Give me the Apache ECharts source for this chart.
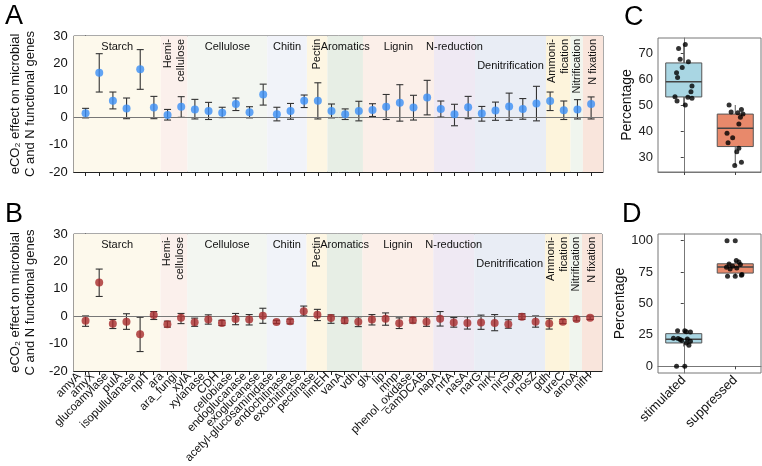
<!DOCTYPE html>
<html><head><meta charset="utf-8">
<script src="https://cdn.jsdelivr.net/npm/echarts@6/dist/echarts.min.js"></script>
<style>html,body{margin:0;padding:0;background:#fff}#c{width:762px;height:466px}</style>
</head><body><div id="c"></div>
<script>
const genes = ['amyA','amyX','glucoamylase','pulA','isopullulanase','nplT','ara','ara_fungi','xylA','xylanase','CDH','cellobiase','endoglucanase','exoglucanase','acetyl-glucosaminidase','endochitinase','exochitinase','pectinase','limEH','vanA','vdh','glx','lip','mnp','phenol_oxidase','camDCAB','napA','nrfA','nasA','narG','nirK','nirS','norB','nosZ','gdh','ureC','amoA','nifH'];
const aMean = [1.6,16.5,6.2,3.3,17.8,3.7,1.0,4.0,3.0,2.4,1.8,5.0,2.0,8.5,1.2,2.4,6.2,6.2,2.4,1.2,2.4,2.8,4.0,5.5,3.7,7.4,3.2,1.2,3.8,1.5,2.6,4.1,3.2,5.2,6.1,2.7,3.0,5.0];
const aLow  = [-0.1,9.4,3.2,-0.4,10.4,-0.4,-0.9,0.1,-0.5,-0.7,0.0,2.6,-0.1,4.6,-1.2,-0.6,3.7,-0.5,-0.1,-0.7,-1.2,0.4,-0.7,-1.3,-0.9,1.0,0.2,-3.0,-0.4,-1.3,-1.0,-1.0,-0.6,-1.2,2.6,-0.7,-0.5,-0.5];
const aHigh = [3.4,23.5,9.4,7.2,25.0,7.8,3.0,7.7,6.7,5.6,3.8,7.2,4.0,12.3,3.8,5.2,8.3,12.8,5.0,3.2,6.0,5.1,8.5,12.1,8.2,13.7,6.1,4.9,7.8,4.1,5.7,9.0,7.0,11.5,9.4,6.1,6.6,7.6];
const bMean = [-1.7,12.3,-2.8,-2.0,-6.6,0.4,-2.9,-0.6,-2.2,-1.2,-2.5,-1.0,-1.2,0.2,-2.1,-1.8,1.8,0.5,-0.7,-1.6,-2.0,-1.2,-0.9,-2.6,-1.5,-2.0,-0.9,-2.3,-2.5,-2.3,-2.5,-2.9,-0.2,-2.0,-2.7,-2.0,-1.0,-0.6];
const bLow  = [-3.7,7.2,-4.5,-4.8,-12.9,-1.2,-4.0,-2.7,-3.7,-2.9,-3.4,-3.1,-3.2,-2.6,-2.7,-2.8,0.1,-1.6,-2.6,-2.6,-3.8,-3.2,-3.3,-4.5,-2.5,-3.7,-3.6,-4.0,-4.7,-4.8,-5.3,-4.4,-1.2,-4.0,-4.7,-2.7,-1.7,-1.2];
const bHigh = [0.1,17.2,-1.2,0.9,-0.4,1.7,-1.8,1.0,-0.7,0.5,-1.5,1.0,0.6,2.9,-1.5,-1.1,3.7,2.5,0.5,-0.6,-0.2,0.6,1.2,-0.6,-0.4,-0.2,1.7,-0.5,-0.2,0.4,0.6,-1.3,0.9,0.1,-0.9,-1.2,-0.2,0.0];
const groupNames = ['Starch','Hemi-\ncellulose','Cellulose','Chitin','Pectin','Aromatics','Lignin','N-reduction','Denitrification','Ammoni-\nfication','Nitrification','N fixation'];
const groupStart = [-0.87,5.5,7.46,13.3,16.2,17.7,20.3,25.5,28.5,33.7,35.5,36.4];
const groupEnd   = [5.5,7.46,13.3,16.2,17.7,20.3,25.5,28.5,33.7,35.5,36.4,37.87];
const groupColors = ['#fdf9ec','#fbf0ec','#f3f6f1','#f1f3f9','#fdf6e3','#e7eee5','#fbefe9','#efe9f3','#e9edf5','#fdf4dc','#f0f5ee','#f9e5dc'];
const groupVertical = [false,true,false,false,true,false,false,false,false,true,true,true];
const groupLower = [false,false,false,false,false,false,false,false,true,false,false,false];

const boxCats = ['stimulated','suppressed'];
// [lower whisker, Q1, median, Q3, upper whisker]
const cBox = [[50.0,53.1,59.0,66.2,73.3],[26.7,34.0,41.0,46.5,50.0]];
const cStim = [73.3,71.8,67.6,66.7,64.4,62.4,60.6,57.3,55.1,53.2,53.0,52.6,51.5,50.0];
const cStimJit = [0.03,-0.10,-0.07,0.09,-0.03,-0.14,-0.12,0.16,0.14,-0.17,0.08,0.16,-0.13,0.03];
const cSupp = [50.0,48.3,47.3,46.5,45.3,42.7,39.1,37.4,35.5,33.3,32.0,28.0,26.7,47.0];
const cSuppJit = [-0.12,0.12,-0.08,0.15,0.10,0.07,-0.16,-0.05,-0.14,0.07,0.03,0.12,-0.01,0.05];
const dBox = [[15.8,18.6,21.6,26.0,28.4],[71.7,74.2,79.0,81.6,84.2]];
const dStim = [0,0,28.4,28.4,27.6,27.4,22.3,22.1,21.8,21.3,20.5,19.9,18.6,16.7];
const dStimJit = [-0.14,0.02,-0.12,0.02,0.05,0.13,-0.2,-0.11,0.07,-0.07,-0.04,0.13,0.05,0.10];
const dSupp = [100,100,84.2,83.1,81.5,81.0,79.6,78.8,78.3,77.5,73.0,72.5,71.7,71.7];
const dSuppJit = [-0.16,0.0,0.02,0.07,-0.12,0.10,-0.05,-0.17,0.03,-0.10,0.13,0.12,0.0,-0.15];
const yTicksC = [30,40,50,60,70];
const yTicksD = [0,25,50,75,100];
const boxFill = ['#a9d6e3','#e8896b'];

const FONT = 'Liberation Sans, Arial, Helvetica, sans-serif';
const chart = echarts.init(document.getElementById('c'), null, {renderer:'canvas'});
const idx = genes.map((g,i)=>i);

function bandData(){
  return groupNames.map((n,i)=>{
    const v = groupVertical[i];
    const lab = v ? {show:true, position:'insideTop', distance:3, rotate:90, align:'right', verticalAlign:'middle', fontSize:11, lineHeight:13, color:'#111', fontFamily:FONT}
                  : {show:true, position:'insideTop', distance: groupLower[i]?24:5, fontSize:11, color:'#111', fontFamily:FONT};
    return [{xAxis:groupStart[i], name:n, itemStyle:{color:groupColors[i]}, label:lab},{xAxis:groupEnd[i]}];
  });
}
function errRender(params, api){
  const x = api.value(0);
  const lo = api.coord([x, api.value(1)]);
  const hi = api.coord([x, api.value(2)]);
  const w = 3.5;
  const st = {stroke:'#333', lineWidth:1.1};
  return {type:'group', children:[
    {type:'line', shape:{x1:lo[0],y1:lo[1],x2:hi[0],y2:hi[1]}, style:st},
    {type:'line', shape:{x1:lo[0]-w,y1:lo[1],x2:lo[0]+w,y2:lo[1]}, style:st},
    {type:'line', shape:{x1:hi[0]-w,y1:hi[1],x2:hi[0]+w,y2:hi[1]}, style:st}
  ]};
}
function boxRender(params, api){
  const c = api.value(0);
  const hw = 0.35;
  const wl = api.coord([c, api.value(1)]);
  const q1l = api.coord([c-hw, api.value(2)]);
  const q1r = api.coord([c+hw, api.value(2)]);
  const med = api.coord([c-hw, api.value(3)]);
  const medr = api.coord([c+hw, api.value(3)]);
  const q3l = api.coord([c-hw, api.value(4)]);
  const wu = api.coord([c, api.value(5)]);
  const st = {stroke:'#555', lineWidth:1};
  return {type:'group', children:[
    {type:'line', shape:{x1:wl[0],y1:wl[1],x2:wl[0],y2:q1l[1]}, style:st},
    {type:'line', shape:{x1:wu[0],y1:wu[1],x2:wu[0],y2:q3l[1]}, style:st},
    {type:'rect', shape:{x:q3l[0], y:q3l[1], width:q1r[0]-q1l[0], height:q1l[1]-q3l[1]},
      style:{fill:boxFill[params.dataIndex], stroke:'#555', lineWidth:1}},
    {type:'line', shape:{x1:med[0],y1:med[1],x2:medr[0],y2:medr[1]}, style:{stroke:'#444', lineWidth:1.5}}
  ]};
}
function geneX(gi){
  return {type:'value', gridIndex:gi, min:-0.87, max:37.87,
    splitLine:{show:false},
    axisLine:{show:true, onZero:false, lineStyle:{color:'#222'}},
    axisTick:{show:true, customValues:idx, length:4, lineStyle:{color:'#222'}},
    axisLabel:{show:false}};
}
function labelX(gi){
  return {type:'category', gridIndex:gi, data:genes, boundaryGap:true,
    axisLine:{show:false}, axisTick:{show:false}, splitLine:{show:false},
    axisLabel:{show:true, interval:0, rotate:45, fontSize:11.6, margin:9, color:'#111', fontFamily:FONT}};
}
function geneY(gi){
  return {type:'value', gridIndex:gi, min:-20, max:30, interval:10,
    name:'eCO\u2082 effect on microbial\nC and N functional genes', nameLocation:'middle', nameGap:30,
    nameTextStyle:{fontSize:13, lineHeight:15, color:'#111', fontFamily:FONT},
    splitLine:{show:false},
    axisLine:{show:true, lineStyle:{color:'#222'}},
    axisTick:{show:true, length:4, lineStyle:{color:'#222'}},
    axisLabel:{fontSize:13, margin:6, color:'#111', fontFamily:FONT}};
}
function boxY(gi, mn, mx, ticks){
  return {type:'value', gridIndex:gi, min:mn, max:mx,
    name:'Percentage', nameLocation:'middle', nameGap:21,
    nameTextStyle:{fontSize:14, color:'#111', fontFamily:FONT},
    splitLine:{show:false},
    axisLine:{show:true, lineStyle:{color:'#777'}},
    axisTick:{show:true, customValues:ticks, length:3, lineStyle:{color:'#444'}},
    axisLabel:{customValues:ticks, showMinLabel:true, showMaxLabel:true, fontSize:13, margin:5, color:'#222', fontFamily:FONT}};
}
function boxX(gi, showLabels){
  return {type:'category', gridIndex:gi, data:boxCats, boundaryGap:true,
    axisLine:{show:true, lineStyle:{color:'#777'}},
    axisTick:{show:true, alignWithLabel:true, length:3, lineStyle:{color:'#444'}},
    axisLabel:{show:showLabels, interval:0, rotate:45, fontSize:13, margin:5, color:'#111', fontFamily:FONT}};
}
function hiddenX(gi){ return {type:'value', gridIndex:gi, min:-0.5, max:1.5, show:false}; }
function pts(vals, jit, cat){ return vals.map((v,i)=>[cat + jit[i], v]); }

const option = {
  animation:false,
  textStyle:{fontFamily:FONT},
  grid:[
    {left:68, top:36, width:535, height:136, show:true, borderColor:'#555', borderWidth:1, backgroundColor:'transparent'},
    {left:67, top:234, width:535, height:137, show:true, borderColor:'#555', borderWidth:1, backgroundColor:'transparent'},
    {left:658, top:38, width:103, height:134, show:true, borderColor:'#777', borderWidth:1, backgroundColor:'transparent'},
    {left:658, top:234, width:103, height:139, show:true, borderColor:'#777', borderWidth:1, backgroundColor:'transparent'},
    {left:72.1, top:234, width:524.8, height:137, show:false}
  ],
  xAxis:[geneX(0), geneX(1), boxX(2,false), boxX(3,true), hiddenX(2), hiddenX(3), labelX(4)],
  yAxis:[geneY(0), geneY(1), boxY(2,24.2,75.8,yTicksC), boxY(3,-5.3,105.3,yTicksD),
         {type:'value', gridIndex:4, min:0, max:1, show:false}],
  graphic:[
    {type:'text', left:5, top:3, style:{text:'A', fontSize:27, fill:'#000', fontFamily:FONT}},
    {type:'text', left:5, top:201, style:{text:'B', fontSize:27, fill:'#000', fontFamily:FONT}},
    {type:'text', left:624, top:4, style:{text:'C', fontSize:27, fill:'#000', fontFamily:FONT}},
    {type:'text', left:622, top:201, style:{text:'D', fontSize:27, fill:'#000', fontFamily:FONT}}
  ],
  series:[
    {type:'line', xAxisIndex:0, yAxisIndex:0, data:[], z:0, silent:true,
     markArea:{silent:true, data:bandData()}},
    {type:'line', xAxisIndex:1, yAxisIndex:1, data:[], z:0, silent:true,
     markArea:{silent:true, data:bandData()}},
    {type:'custom', xAxisIndex:0, yAxisIndex:0, z:3, renderItem:errRender,
     data:idx.map(i=>[i,aLow[i],aHigh[i]]),
     markLine:{silent:true, symbol:'none', label:{show:false}, lineStyle:{color:'#777', width:1, type:'solid'}, data:[{yAxis:0}]}},
    {type:'custom', xAxisIndex:1, yAxisIndex:1, z:3, renderItem:errRender,
     data:idx.map(i=>[i,bLow[i],bHigh[i]]),
     markLine:{silent:true, symbol:'none', label:{show:false}, lineStyle:{color:'#777', width:1, type:'solid'}, data:[{yAxis:0}]}},
    {type:'scatter', xAxisIndex:0, yAxisIndex:0, z:5, symbolSize:8, itemStyle:{color:'#3a8ef6'},
     data:idx.map(i=>[i,aMean[i]])},
    {type:'scatter', xAxisIndex:1, yAxisIndex:1, z:5, symbolSize:8, itemStyle:{color:'#a62a2c'},
     data:idx.map(i=>[i,bMean[i]])},
    {type:'custom', xAxisIndex:4, yAxisIndex:2, z:3, renderItem:boxRender,
     data:cBox.map((b,i)=>[i].concat(b))},
    {type:'custom', xAxisIndex:5, yAxisIndex:3, z:3, renderItem:boxRender,
     data:dBox.map((b,i)=>[i].concat(b))},
    {type:'scatter', xAxisIndex:4, yAxisIndex:2, z:5, symbolSize:5, itemStyle:{color:'#000'},
     data:pts(cStim,cStimJit,0).concat(pts(cSupp,cSuppJit,1))},
    {type:'scatter', xAxisIndex:5, yAxisIndex:3, z:5, symbolSize:5, itemStyle:{color:'#000'},
     data:pts(dStim,dStimJit,0).concat(pts(dSupp,dSuppJit,1))}
  ]
};
chart.setOption(option);
</script></body></html>
